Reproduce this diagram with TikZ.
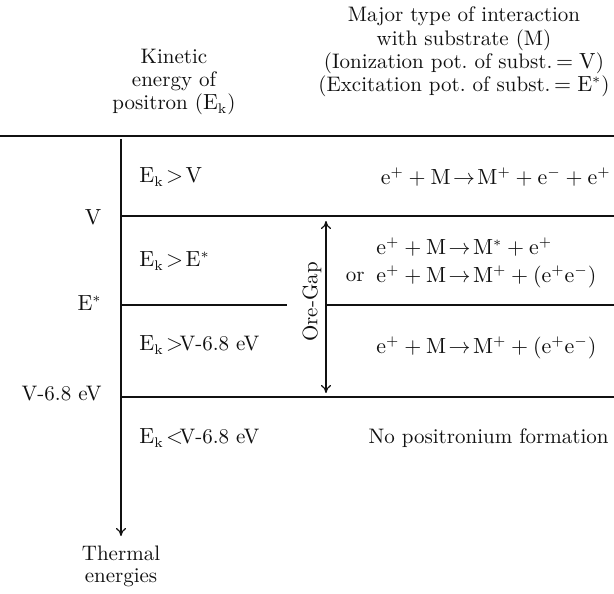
\documentclass[tikz,border=0pt]{standalone}
\usepackage{amsmath, amssymb}
\usetikzlibrary{positioning, calc, arrows.meta}
\definecolor{Ink}{HTML}{111111}
\tikzset{
    testo/.style={inner sep=1pt, text=Ink, font=\fontsize{10.5}{11}\selectfont, align=center},
    titolo/.style={testo, font=\fontsize{10.5}{11.6}\selectfont},
    livello/.style={testo, anchor=east},
    regione/.style={testo, anchor=west},
    reazione/.style={testo, anchor=west},
    riga/.style={line width=0.6pt, color=Ink},
    freccia/.style={-{To[length=4pt,width=5pt]}, line width=0.6pt, color=Ink},
}
\begin{document}
\begin{tikzpicture}[x=0.5pt, y=-0.5pt]
                \useasboundingbox (0,0) rectangle (614,593);
                % Intestazioni
                \node[titolo] (hdrsx) at (174,82) {Kinetic\\energy of\\positron ($\mathrm{E_k}$)};
                \node[titolo] (hdrdx) at (464,52) {Major type of interaction\\with substrate (M)\\(Ionization pot.\ of subst.$\,=\mathrm{V}$)\\(Excitation pot.\ of subst.$\,=\mathrm{E^*}$)};

                % Asse energia
                \coordinate (top0) at (0,136);
                \coordinate (top1) at (614,136);
                \coordinate (asse0) at (121,139);
                \coordinate (asse1) at (121,536);
                \draw[riga] (top0) -- (top1);
                \draw[freccia] (asse0) -- (asse1);
                \node[testo, anchor=north] (term) at (121,544) {Thermal\\energies};

                % Livelli
                \node[livello] (lv) at (104,217) {$\mathrm{V}$};
                \node[livello] (le) at (104,303) {$\mathrm{E^*}$};
                \node[livello] (lg) at (104,394) {V-6.8 eV};
                \coordinate (v0) at (121,216);   \coordinate (v1) at (614,216);
                \coordinate (e0) at (121,305);   \coordinate (e1) at (287,305);
                \coordinate (e2) at (326,305);   \coordinate (e3) at (614,305);
                \coordinate (g0) at (121,397);   \coordinate (g1) at (614,397);
                \draw[riga] (v0) -- (v1);
                \draw[riga] (e0) -- (e1);
                \draw[riga] (e2) -- (e3);
                \draw[riga] (g0) -- (g1);

                % Regioni di energia
                \node[regione] (r1) at (137,177) {$\mathrm{E_k}\!>\!\mathrm{V}$};
                \node[regione] (r2) at (137,261) {$\mathrm{E_k}\!>\!\mathrm{E^*}$};
                \node[regione] (r3) at (137,345) {$\mathrm{E_k}\!>\!$V-6.8 eV};
                \node[regione] (r4) at (137,438) {$\mathrm{E_k}\!<\!$V-6.8 eV};

                % Ore-Gap
                \coordinate (og0) at (326,221);
                \coordinate (og1) at (326,393);
                \draw[freccia, {To[length=4pt,width=5pt]}-{To[length=4pt,width=5pt]}] (og0) -- (og1);
                \node[testo, rotate=90] (ore) at (312,302) {Ore-Gap};

                % Reazioni
                \node[testo, anchor=east] (x1) at (613,177) {$\mathrm{e^+ + M \!\rightarrow\! M^+ + e^- + e^+}$};
                \node[reazione] (x2) at (374,247) {$\mathrm{e^+ + M \!\rightarrow\! M^* + e^+}$};
                \node[reazione] (x3) at (374,277) {$\mathrm{e^+ + M \!\rightarrow\! M^+ + (e^+e^-)}$};
                \node[testo, anchor=east] (oppure) at (x3.west) {or\ };
                \node[reazione] (x4) at (374,348) {$\mathrm{e^+ + M \!\rightarrow\! M^+ + (e^+e^-)}$};
                \node[testo, anchor=east] (x5) at (611,438) {No positronium formation};
            \end{tikzpicture}
\end{document}
